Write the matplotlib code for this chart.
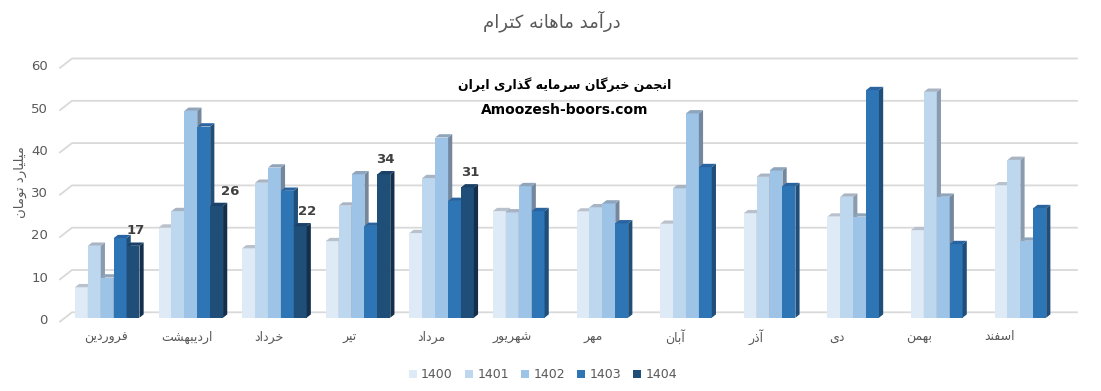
import numpy as np
import matplotlib
matplotlib.use('Agg')
import matplotlib.pyplot as plt
from matplotlib.patches import Polygon, Patch


# data (billion toman)
months = ['فروردین', 'اردیبهشت', 'خرداد', 'تیر', 'مرداد', 'شهریور',
          'مهر', 'آبان', 'آذر', 'دی', 'بهمن', 'اسفند']
years = ['1400', '1401', '1402', '1403', '1404']
s1400 = [7.2, 21.3, 16.4, 18.1, 20.0, 25.2, 25.1, 22.2, 24.7, 23.9, 20.7, 31.3]
s1401 = [17.0, 25.2, 31.9, 26.5, 33.0, 24.9, 26.1, 30.6, 33.3, 28.6, 53.4, 37.3]
s1402 = [9.5, 48.9, 35.5, 33.9, 42.6, 31.1, 27.0, 48.3, 34.8, 23.9, 28.6, 18.2]
s1403 = [18.8, 45.2, 30.0, 21.7, 27.6, 25.2, 22.3, 35.6, 31.1, 53.8, 17.4, 25.9]
s1404 = [17.0, 26.4, 21.6, 33.9, 30.8]
yticks = [0, 10, 20, 30, 40, 50, 60]

title = 'درآمد ماهانه کترام'
ylabel = 'میلیارد تومان'
mark_fa = 'انجمن خبرگان سرمایه گذاری ایران'
mark_en = 'Amoozesh-boors.com'

series = [s1400, s1401, s1402, s1403, s1404 + [np.nan] * 7]
front = ['#DEEBF7', '#BDD7EE', '#9DC3E6', '#2E75B6', '#1F4E79']
side = ['#A9B4C2', '#8A9AAF', '#73889F', '#1F4E79', '#142F4B']
top = ['#B9C2CC', '#A8B4C3', '#8FA5BC', '#2A64A0', '#1B4168']

# simple persian shaping: presentation forms + visual order
FORMS = {
    'ا': ('\uFE8D', '\uFE8E', None, None),
    'آ': ('\uFE81', '\uFE82', None, None),
    'ب': ('\uFE8F', '\uFE90', '\uFE91', '\uFE92'),
    'ت': ('\uFE95', '\uFE96', '\uFE97', '\uFE98'),
    'ج': ('\uFE9D', '\uFE9E', '\uFE9F', '\uFEA0'),
    'خ': ('\uFEA5', '\uFEA6', '\uFEA7', '\uFEA8'),
    'د': ('\uFEA9', '\uFEAA', None, None),
    'ذ': ('\uFEAB', '\uFEAC', None, None),
    'ر': ('\uFEAD', '\uFEAE', None, None),
    'ز': ('\uFEAF', '\uFEB0', None, None),
    'س': ('\uFEB1', '\uFEB2', '\uFEB3', '\uFEB4'),
    'ش': ('\uFEB5', '\uFEB6', '\uFEB7', '\uFEB8'),
    'ف': ('\uFED1', '\uFED2', '\uFED3', '\uFED4'),
    'ل': ('\uFEDD', '\uFEDE', '\uFEDF', '\uFEE0'),
    'م': ('\uFEE1', '\uFEE2', '\uFEE3', '\uFEE4'),
    'ن': ('\uFEE5', '\uFEE6', '\uFEE7', '\uFEE8'),
    'ه': ('\uFEE9', '\uFEEA', '\uFEEB', '\uFEEC'),
    'و': ('\uFEED', '\uFEEE', None, None),
    'ک': ('\uFB8E', '\uFB8F', '\uFB90', '\uFB91'),
    'ك': ('\uFED9', '\uFEDA', '\uFEDB', '\uFEDC'),
    'گ': ('\uFB92', '\uFB93', '\uFB94', '\uFB95'),
    'ی': ('\uFBFC', '\uFBFD', '\uFBFE', '\uFBFF'),
    'ي': ('\uFEF1', '\uFEF2', '\uFEF3', '\uFEF4'),
}


def fa(text):
    out = []
    for i, ch in enumerate(text):
        f = FORMS.get(ch)
        if f is None:
            out.append(ch)
            continue
        prev = text[i - 1] if i > 0 else ''
        nxt = text[i + 1] if i + 1 < len(text) else ''
        jp = prev in FORMS and FORMS[prev][2] is not None
        jn = nxt in FORMS and f[2] is not None
        if jp and jn:
            out.append(f[3])
        elif jp:
            out.append(f[1])
        elif jn:
            out.append(f[2])
        else:
            out.append(f[0])
    return ''.join(reversed(out))


W, H = 1101, 391
fig = plt.figure(figsize=(W / 100, H / 100), dpi=100)
fig.patch.set_facecolor('white')

# axes = front plane of the bars
left, right, bottom, topp = 60, 1077, 317.7, 63.9
ax = fig.add_axes([left / W, (H - bottom) / H, (right - left) / W, (bottom - topp) / H])
x0, x1 = -0.5646, 11.6
ax.set_xlim(x0, x1)
ax.set_ylim(0, 60)
ax.set_axis_off()

kx = (right - left) / (x1 - x0)   # px per x unit
ky = (bottom - topp) / 60.0       # px per y unit
bw = 12.9 / kx
ddx, ddy = 4.2 / kx, 3.3 / ky

# back-wall grid with slanted floor edge
for v in yticks:
    yb = v + 5.4 / ky
    yf = v - 3.9 / ky
    ax.plot([x0, x0 + 12 / kx, x1], [yf, yb, yb], color='#D9D9D9', lw=1.3,
            zorder=1, clip_on=False)
    ax.text(x0 - 12 / kx, v - 2.9 / ky, str(v), ha='right', va='center',
            fontsize=9.5, color='#595959')

# 3d-looking columns
xs = np.arange(len(months))
for k, vals in enumerate(series):
    vals = np.array(vals, dtype=float)
    ok = ~np.isnan(vals)
    xl = xs[ok] + (k - 2.5) * bw
    hv = vals[ok]
    z = 3 + k * 3
    ax.bar(xl, hv, bw, align='edge', color=front[k], lw=0, zorder=z)
    for xa, h in zip(xl, hv):
        xr = xa + bw
        ax.add_patch(Polygon([(xr, 0), (xr + ddx, ddy), (xr + ddx, h + ddy), (xr, h)],
                             closed=True, fc=side[k], ec='none', zorder=z + 1))
        ax.add_patch(Polygon([(xa, h), (xa + ddx, h + ddy), (xr + ddx, h + ddy), (xr, h)],
                             closed=True, fc=top[k], ec='none', zorder=z + 2))

# data labels on 1404
nudge = [2.5, 14, 7, 2, 2.5]
for i, v in enumerate(s1404):
    xc = xs[i] + 2 * bw + nudge[i] / kx
    ax.text(xc, v + 15 / ky, '%.0f' % v, ha='center', va='center',
            fontsize=9.5, fontweight='bold', color='#404040', zorder=30)

# month labels (perspective shifts them slightly left)
lab0, lab_step = -0.014, 0.972
for i, m in enumerate(months):
    ax.text(lab0 + lab_step * i, -19.3 / ky, fa(m), ha='center', va='center',
            fontsize=9, color='#595959', clip_on=False)

fig.text(552 / W, 1 - 21 / H, fa(title), ha='center', va='center',
         fontsize=13, color='#595959')
fig.text(20 / W, 1 - 182 / H, fa(ylabel), ha='center', va='center',
         rotation=90, fontsize=9.5, color='#595959')
fig.text(565 / W, 1 - 85 / H, fa(mark_fa), ha='center', va='center',
         fontsize=9, fontweight='bold', color='black', zorder=40)
fig.text(565 / W, 1 - 110 / H, mark_en, ha='center', va='center',
         fontsize=10, fontweight='bold', color='black', zorder=40)

handles = [Patch(facecolor=c, edgecolor='none') for c in front]
fig.legend(handles, years, loc='center', bbox_to_anchor=(543 / W, 1 - 375 / H),
           ncol=5, frameon=False, fontsize=9, labelcolor='#595959',
           handlelength=0.6, handleheight=0.6, handletextpad=0.35,
           columnspacing=1.0)

fig.savefig('out.png', dpi=100, facecolor='white')
